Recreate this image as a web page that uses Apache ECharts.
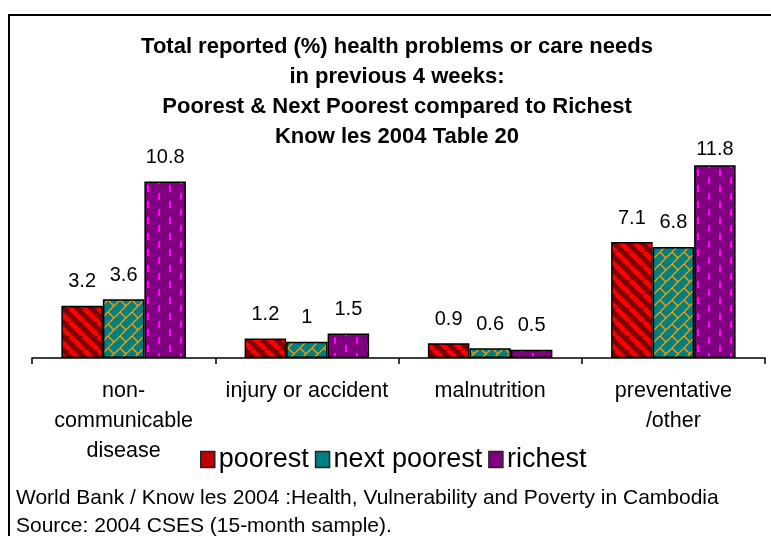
<!DOCTYPE html>
<html>
<head>
<meta charset="utf-8">
<script src="https://cdn.jsdelivr.net/npm/echarts@6/dist/echarts.min.js"></script>
<style>html,body{margin:0;padding:0;background:#fff}#c{width:771px;height:536px}</style>
</head>
<body>
<div id="c"></div>
<script>
const categories = ['non-\ncommunicable\ndisease', 'injury or accident', 'malnutrition', 'preventative\n/other'];
const seriesNames = ['poorest', 'next poorest', 'richest'];
const poorest = [3.2, 1.2, 0.9, 7.1];
const nextPoorest = [3.6, 1, 0.6, 6.8];
const richest = [10.8, 1.5, 0.5, 11.8];
const titleText = 'Total reported (%) health problems or care needs\nin previous 4 weeks:\nPoorest & Next Poorest compared to Richest\nKnow les 2004 Table 20';
const footerText = 'World Bank / Know les 2004 :Health, Vulnerability and Poverty in Cambodia\nSource: 2004 CSES (15-month sample).';

const FONT = '"Liberation Sans", Arial, sans-serif';

function mk(w, h) { const c = document.createElement('canvas'); c.width = w; c.height = h; return c; }
function stripePattern() {
  const s = 14, c = mk(s, s), g = c.getContext('2d');
  g.fillStyle = '#800000'; g.fillRect(0, 0, s, s);
  g.strokeStyle = '#FF0000'; g.lineWidth = 5;
  for (const k of [-2 * s, -s, 0, s, 2 * s]) { g.beginPath(); g.moveTo(k, 0); g.lineTo(k + s, s); g.stroke(); }
  return c;
}
function brickPattern() {
  const s = 12, c = mk(s, s), g = c.getContext('2d');
  g.fillStyle = '#008080'; g.fillRect(0, 0, s, s);
  g.strokeStyle = '#FF9900'; g.lineWidth = 1.3;
  for (const k of [-s, 0, s]) { g.beginPath(); g.moveTo(k, s); g.lineTo(k + s, 0); g.stroke(); }
  g.beginPath(); g.moveTo(0, 0); g.lineTo(s / 2, s / 2); g.stroke();
  g.beginPath(); g.moveTo(s, s); g.lineTo(s * 1.5, s * 1.5); g.stroke();
  return c;
}
function dashPattern() {
  const c = mk(22, 16), g = c.getContext('2d');
  g.fillStyle = '#800080'; g.fillRect(0, 0, 22, 16);
  g.fillStyle = '#FF00FF';
  g.fillRect(4, 1, 2, 7);
  g.fillRect(15, 9, 2, 7);
  return c;
}
const patterns = [stripePattern(), brickPattern(), dashPattern()];
const legendColors = ['#C00000', '#008080', '#800080'];
const dataSets = [poorest, nextPoorest, richest];
const Y_MAX = 12;

const chart = echarts.init(document.getElementById('c'), null, { renderer: 'canvas' });
chart.setOption({
  backgroundColor: '#fff',
  animation: false,
  graphic: [{
    type: 'rect', z: -1,
    shape: { x: 9, y: 15, width: 900, height: 700 },
    style: { fill: 'none', stroke: '#000', lineWidth: 2 }
  }],
  title: [{
    text: titleText,
    left: 392, top: 27, textAlign: 'center',
    textStyle: { fontFamily: FONT, fontWeight: 'bold', fontSize: 22, lineHeight: 30, color: '#000' }
  }, {
    text: footerText,
    left: 11, top: 479,
    textStyle: { fontFamily: FONT, fontWeight: 'normal', fontSize: 21, lineHeight: 28, color: '#000' }
  }],
  legend: {
    left: 200, top: 446, padding: 0, itemGap: 6, itemWidth: 14, itemHeight: 16,
    icon: 'rect',
    textStyle: { fontFamily: FONT, fontSize: 27, color: '#000', padding: [0, 0, 0, -1] },
    data: seriesNames.map((n, i) => ({ name: n, itemStyle: { color: legendColors[i], borderColor: '#222', borderWidth: 1.5 } }))
  },
  grid: { left: 32, right: 6, top: 162, bottom: 178, containLabel: false },
  xAxis: {
    type: 'category', data: categories,
    axisLine: { lineStyle: { color: '#000', width: 1.5 } },
    axisTick: { show: true, length: 6, lineStyle: { color: '#000', width: 1.5 } },
    axisLabel: { interval: 0, margin: 18, fontFamily: FONT, fontSize: 21.5, lineHeight: 30, color: '#000' }
  },
  yAxis: { type: 'value', min: 0, max: Y_MAX, show: false, splitLine: { show: false } },
  series: seriesNames.map((n, i) => ({
    name: n, type: 'bar', barWidth: 41.5, barGap: '0%',
    data: dataSets[i].map(v => v > Y_MAX - 0.5 ? { value: v, label: { distance: 6 } } : v),
    itemStyle: { color: { image: patterns[i], repeat: 'repeat' }, borderColor: '#000', borderWidth: 1.5 },
    label: { show: true, position: 'top', distance: 14, fontFamily: FONT, fontSize: 20, color: '#000' }
  }))
});
</script>
</body>
</html>
